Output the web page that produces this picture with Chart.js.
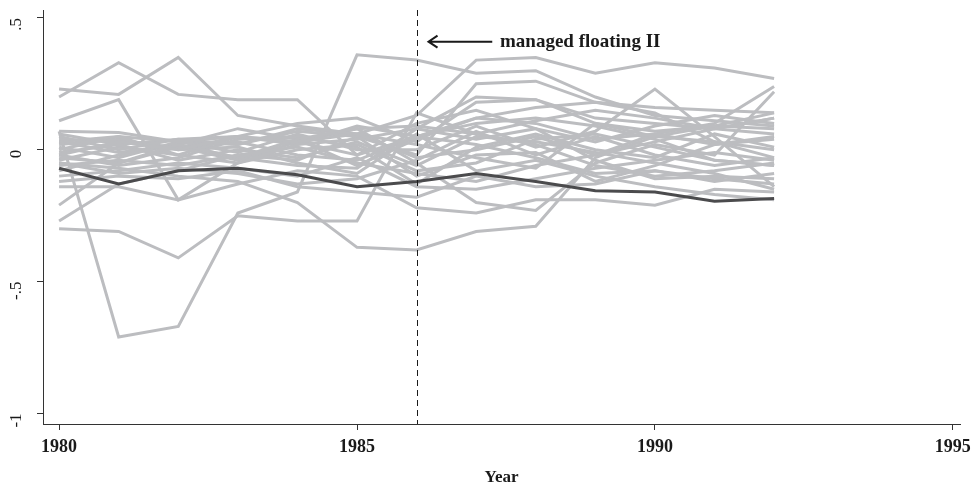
<!DOCTYPE html>
<html>
<head>
<meta charset="utf-8">
<script src="https://cdn.jsdelivr.net/npm/chart.js@4.4.1/dist/chart.umd.min.js"></script>
<style>
  body { margin: 0; background: #fff; }
  #wrap { width: 971px; height: 488px; }
</style>
</head>
<body>
<div id="wrap"><canvas id="myChart"></canvas></div>
<script>
// years on the x axis
const years = [1980, 1981, 1982, 1983, 1984, 1985, 1986, 1987, 1988, 1989, 1990, 1991, 1992];
const xTicks = [1980, 1985, 1990, 1995];
const yTicks = [-1, -0.5, 0, 0.5];
const yTickLabels = ['-1', '-.5', '0', '.5'];
const regimeYear = 1986;
const regimeLabel = 'managed floating II';

// highlighted country (dark line)
const mainLine = [-0.07, -0.13, -0.08, -0.07, -0.095, -0.14, -0.12, -0.09, -0.12, -0.155, -0.16, -0.195, -0.185];

// all other countries (grey lines)
const g01 = [0.20, 0.33, 0.21, 0.19, 0.19, -0.02, 0.05, 0.12, 0.10, 0.04, 0.06, 0.02, 0.05];
const g02 = [0.23, 0.21, 0.35, 0.13, 0.09, 0.06, -0.03, 0.00, 0.05, -0.02, 0.03, 0.08, 0.12];
const g03 = [0.11, 0.19, -0.19, -0.05, 0.02, 0.04, 0.08, 0.20, 0.19, 0.10, 0.05, 0.09, 0.14];
const g04 = [0.07, -0.71, -0.67, -0.24, -0.16, 0.36, 0.34, 0.29, 0.30, 0.20, 0.13, 0.11, 0.09];
const g05 = [-0.30, -0.31, -0.41, -0.25, -0.27, -0.27, 0.14, 0.06, 0.02, -0.06, -0.10, -0.08, -0.05];
const g06 = [-0.05, -0.07, -0.10, -0.12, -0.20, -0.37, -0.38, -0.31, -0.29, -0.03, 0.05, 0.03, -0.03];
const g07 = [-0.02, 0.03, 0.00, 0.05, 0.03, 0.06, 0.13, 0.34, 0.35, 0.29, 0.33, 0.31, 0.27];
const g08 = [-0.27, -0.13, -0.08, -0.02, 0.01, -0.05, -0.09, -0.12, -0.06, -0.02, 0.06, 0.10, 0.24];
const g09 = [-0.21, -0.05, 0.02, -0.03, 0.04, 0.08, -0.05, -0.20, -0.23, -0.05, 0.02, -0.02, 0.22];
const g10 = [-0.14, -0.14, -0.19, -0.13, -0.08, -0.10, -0.22, -0.24, -0.19, -0.19, -0.21, -0.15, -0.16];
const g11 = [0.07, 0.065, 0.03, 0.05, 0.10, 0.12, 0.03, 0.18, 0.19, 0.12, 0.10, 0.08, 0.06];
const g12 = [0.05, 0.00, 0.04, 0.02, 0.07, 0.05, -0.02, 0.25, 0.26, 0.18, 0.16, 0.15, 0.14];
const g13 = [0.03, 0.05, -0.02, 0.05, 0.02, 0.09, 0.05, 0.10, 0.12, 0.09, 0.04, -0.04, -0.06];
const g14 = [0.01, -0.03, 0.03, -0.01, 0.06, 0.00, 0.00, 0.09, 0.01, 0.07, 0.23, 0.05, -0.14];
const g15 = [-0.01, 0.02, -0.04, 0.00, -0.03, 0.03, -0.06, 0.05, 0.03, -0.01, -0.05, -0.09, -0.15];
const g16 = [-0.03, -0.05, 0.01, 0.03, -0.02, -0.04, 0.05, 0.02, -0.03, -0.09, -0.08, -0.12, -0.09];
const g17 = [-0.04, 0.01, -0.02, -0.05, 0.00, 0.02, -0.08, -0.05, 0.04, 0.06, 0.01, -0.04, -0.06];
const g18 = [-0.06, -0.04, -0.06, -0.02, -0.04, 0.05, -0.10, -0.02, -0.01, -0.12, -0.06, 0.02, 0.04];
const g19 = [-0.08, -0.02, 0.02, -0.03, -0.06, -0.07, 0.08, 0.04, 0.08, -0.04, -0.11, -0.10, -0.11];
const g20 = [0.04, 0.03, 0.01, -0.04, 0.03, -0.02, 0.10, 0.15, 0.08, 0.03, 0.09, 0.13, 0.10];
const g21 = [-0.02, -0.06, -0.03, 0.04, 0.05, 0.01, -0.13, 0.01, 0.06, 0.00, -0.03, 0.06, 0.01];
const g22 = [0.02, 0.04, 0.00, 0.01, -0.05, -0.09, 0.06, -0.08, -0.04, -0.10, -0.14, -0.17, -0.19];
const g23 = [-0.10, -0.08, -0.05, -0.07, -0.10, -0.03, -0.14, -0.15, -0.11, -0.07, -0.04, -0.01, -0.04];
const g24 = [0.00, 0.05, 0.03, 0.02, 0.08, 0.06, 0.02, -0.03, -0.07, 0.10, 0.07, 0.09, 0.08];
const g25 = [-0.05, -0.09, -0.07, -0.09, -0.13, -0.11, -0.04, 0.07, -0.02, 0.05, -0.02, -0.06, -0.03];
const g26 = [0.06, 0.02, 0.04, 0.05, 0.03, 0.08, 0.09, 0.06, 0.11, 0.15, 0.12, 0.08, 0.12];
const g27 = [-0.12, -0.10, -0.11, -0.08, -0.14, -0.16, -0.18, -0.10, -0.14, -0.13, -0.08, -0.11, -0.13];
const g28 = [0.03, -0.01, 0.02, 0.08, 0.04, -0.06, 0.04, 0.12, 0.16, 0.18, 0.14, 0.03, 0.00];

const greyLines = [g01, g02, g03, g04, g05, g06, g07, g08, g09, g10, g11, g12, g13, g14,
                   g15, g16, g17, g18, g19, g20, g21, g22, g23, g24, g25, g26, g27, g28];

function toPoints(vals) {
  return vals.map((v, i) => ({ x: years[i], y: v }));
}

const datasets = [{
  data: toPoints(mainLine),
  borderColor: '#4b4b4d',
  borderWidth: 3,
  pointRadius: 0,
  tension: 0
}];
greyLines.forEach(function (vals) {
  datasets.push({
    data: toPoints(vals),
    borderColor: '#bcbdc0',
    borderWidth: 3,
    pointRadius: 0,
    tension: 0
  });
});

// dashed regime line + arrow label
const regimeMarker = {
  id: 'regimeMarker',
  afterDatasetsDraw(chart) {
    const ctx = chart.ctx;
    const area = chart.chartArea;
    const x = chart.scales.x;
    const y = chart.scales.y;
    const px = Math.round(x.getPixelForValue(regimeYear)) + 0.5;
    ctx.save();
    ctx.strokeStyle = '#1a1a1a';
    ctx.lineWidth = 1;
    ctx.setLineDash([6, 4]);
    ctx.beginPath();
    ctx.moveTo(px, area.top);
    ctx.lineTo(px, area.bottom);
    ctx.stroke();

    const ay = y.getPixelForValue(0.41);
    const tip = x.getPixelForValue(regimeYear + 0.2);
    const tail = x.getPixelForValue(regimeYear + 1.27);
    ctx.setLineDash([]);
    ctx.lineWidth = 2;
    ctx.beginPath();
    ctx.moveTo(tail, ay);
    ctx.lineTo(tip, ay);
    ctx.moveTo(tip + 9, ay - 6);
    ctx.lineTo(tip, ay);
    ctx.lineTo(tip + 9, ay + 6);
    ctx.stroke();

    ctx.fillStyle = '#1a1a1a';
    ctx.font = 'bold 19px "Liberation Serif", serif';
    ctx.textAlign = 'left';
    ctx.textBaseline = 'middle';
    ctx.fillText(regimeLabel, x.getPixelForValue(regimeYear + 1.4), ay);
    ctx.restore();
  }
};

const config = {
  type: 'line',
  data: { datasets: datasets },
  options: {
    responsive: true,
    maintainAspectRatio: false,
    animation: false,
    layout: { padding: { top: 10, right: 11, left: 0, bottom: 0 } },
    plugins: {
      legend: { display: false },
      tooltip: { enabled: false }
    },
    scales: {
      x: {
        type: 'linear',
        min: 1979.73,
        max: 1995.12,
        afterBuildTicks: function (scale) {
          scale.ticks = xTicks.map(v => ({ value: v }));
        },
        afterFit: function (scale) {
          scale.height = 64;
          scale.paddingLeft = 0;
          scale.paddingRight = 0;
        },
        ticks: {
          color: '#1a1a1a',
          font: { family: '"Liberation Serif", serif', size: 18, weight: 'bold' },
          maxRotation: 0,
          padding: 7,
          callback: v => String(v)
        },
        grid: { drawOnChartArea: false, tickLength: 6, color: '#333' },
        border: { color: '#333', width: 1 },
        title: {
          display: true,
          text: 'Year',
          color: '#1a1a1a',
          font: { family: '"Liberation Serif", serif', size: 17, weight: 'bold' },
          padding: { top: 0, bottom: 0 }
        }
      },
      y: {
        min: -1.04,
        max: 0.53,
        afterBuildTicks: function (scale) {
          scale.ticks = yTicks.map(v => ({ value: v }));
        },
        afterFit: function (scale) {
          scale.width = 43;
          scale.paddingTop = 0;
          scale.paddingBottom = 0;
        },
        ticks: {
          color: '#1a1a1a',
          font: { family: '"Liberation Serif", serif', size: 17 },
          minRotation: 90,
          maxRotation: 90,
          padding: 20,
          callback: function (v) { return yTickLabels[yTicks.indexOf(v)]; }
        },
        grid: { drawOnChartArea: false, tickLength: 6, color: '#333' },
        border: { color: '#333', width: 1 }
      }
    }
  },
  plugins: [regimeMarker]
};

const myChart = new Chart(document.getElementById('myChart'), config);
</script>
</body>
</html>
